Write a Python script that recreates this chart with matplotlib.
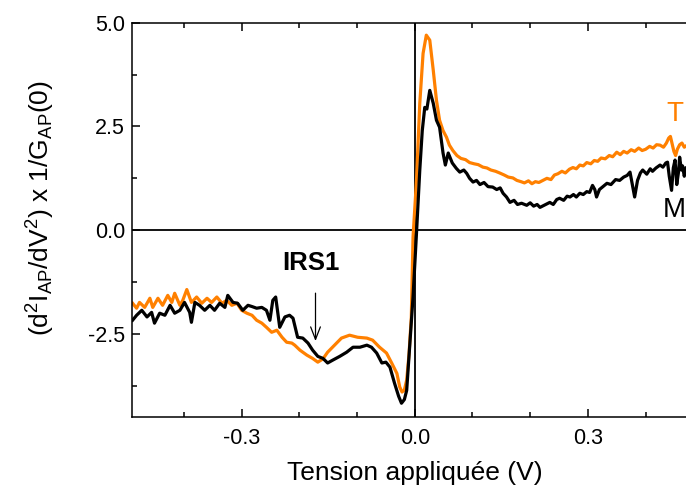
import matplotlib
matplotlib.use('Agg')
import matplotlib.pyplot as plt
from matplotlib.ticker import MultipleLocator, FormatStrFormatter

plt.rcParams['font.family'] = ['Liberation Sans', 'DejaVu Sans']
plt.rcParams['mathtext.fontset'] = 'custom'
plt.rcParams['mathtext.rm'] = 'Liberation Sans'
plt.rcParams['mathtext.it'] = 'Liberation Sans'
plt.rcParams['axes.unicode_minus'] = False

# courbe M (noire)
v_M = [-0.489, -0.482, -0.473, -0.464, -0.456, -0.451, -0.442, -0.433, -0.424, -0.416,
       -0.407, -0.399, -0.390, -0.387, -0.381, -0.373, -0.364, -0.355, -0.347, -0.338,
       -0.329, -0.324, -0.315, -0.307, -0.298, -0.289, -0.282, -0.274, -0.265, -0.257,
       -0.251, -0.246, -0.241, -0.234, -0.225, -0.217, -0.211, -0.203, -0.194, -0.185,
       -0.177, -0.168, -0.159, -0.151, -0.142, -0.130, -0.118, -0.107, -0.095, -0.083,
       -0.075, -0.066, -0.057, -0.050, -0.043, -0.035, -0.028, -0.023, -0.018, -0.014,
       -0.009, -0.003, 0.003, 0.0087, 0.013, 0.0173, 0.021, 0.026, 0.032, 0.0376,
       0.043, 0.049, 0.053, 0.058, 0.065, 0.072, 0.078, 0.085, 0.090, 0.095,
       0.101, 0.107, 0.113, 0.120, 0.127, 0.135, 0.142, 0.148, 0.153, 0.159,
       0.165, 0.172, 0.178, 0.185, 0.194, 0.200, 0.206, 0.212, 0.217, 0.224,
       0.230, 0.234, 0.240, 0.246, 0.251, 0.258, 0.264, 0.269, 0.275, 0.280,
       0.286, 0.292, 0.298, 0.303, 0.308, 0.312, 0.315, 0.320, 0.326, 0.333,
       0.340, 0.348, 0.355, 0.362, 0.368, 0.373, 0.377, 0.381, 0.386, 0.391,
       0.395, 0.402, 0.408, 0.412, 0.418, 0.425, 0.430, 0.435, 0.438, 0.441,
       0.445, 0.448, 0.451, 0.454, 0.457, 0.459, 0.462, 0.464, 0.467, 0.470]
d2I_M = [-2.17, -2.05, -1.93, -2.09, -1.98, -2.24, -2.00, -2.05, -1.81, -2.00,
         -1.93, -1.74, -1.98, -2.22, -1.74, -1.81, -1.93, -1.81, -1.93, -1.76,
         -1.86, -1.57, -1.74, -1.76, -1.93, -1.81, -1.84, -1.88, -1.86, -1.93,
         -2.17, -1.69, -1.61, -2.34, -2.09, -2.05, -2.12, -2.58, -2.60, -2.72,
         -2.89, -3.04, -3.09, -3.20, -3.13, -3.04, -2.94, -2.82, -2.82, -2.77,
         -2.82, -2.96, -3.20, -3.18, -3.30, -3.69, -4.00, -4.17, -4.08, -3.86,
         -2.82, -1.61, -0.07, 1.45, 2.40, 2.96, 2.92, 3.37, 3.06, 2.65,
         2.48, 1.86, 1.57, 1.86, 1.62, 1.49, 1.40, 1.45, 1.37, 1.25,
         1.16, 1.20, 1.10, 1.15, 1.05, 1.04, 0.98, 1.02, 0.89, 0.80,
         0.67, 0.72, 0.62, 0.65, 0.60, 0.66, 0.58, 0.62, 0.55, 0.60,
         0.64, 0.67, 0.62, 0.74, 0.77, 0.72, 0.82, 0.80, 0.86, 0.80,
         0.89, 0.86, 0.93, 0.91, 1.08, 0.98, 0.80, 0.98, 1.05, 1.13,
         1.10, 1.22, 1.20, 1.28, 1.32, 1.40, 1.10, 0.80, 1.20, 1.38,
         1.45, 1.35, 1.48, 1.42, 1.50, 1.57, 1.52, 1.62, 1.64, 1.30,
         0.96, 1.50, 1.69, 1.10, 1.40, 1.76, 1.45, 1.55, 1.30, 1.50]

# courbe T (orange)
v_T = [-0.489, -0.482, -0.477, -0.468, -0.459, -0.454, -0.445, -0.437, -0.428, -0.421,
       -0.416, -0.407, -0.402, -0.395, -0.387, -0.378, -0.369, -0.360, -0.352, -0.343,
       -0.334, -0.326, -0.317, -0.308, -0.300, -0.291, -0.282, -0.274, -0.265, -0.257,
       -0.248, -0.239, -0.230, -0.222, -0.213, -0.208, -0.199, -0.187, -0.177, -0.168,
       -0.159, -0.151, -0.139, -0.127, -0.113, -0.099, -0.083, -0.073, -0.061, -0.049,
       -0.040, -0.031, -0.026, -0.022, -0.018, -0.014, -0.010, -0.006, -0.003, 0.003,
       0.0087, 0.0144, 0.020, 0.026, 0.032, 0.0376, 0.043, 0.049, 0.055, 0.060,
       0.066, 0.073, 0.080, 0.088, 0.095, 0.103, 0.110, 0.118, 0.125, 0.132,
       0.140, 0.147, 0.155, 0.162, 0.170, 0.177, 0.184, 0.190, 0.197, 0.203,
       0.209, 0.215, 0.222, 0.229, 0.236, 0.242, 0.248, 0.255, 0.261, 0.268,
       0.274, 0.280, 0.286, 0.292, 0.298, 0.305, 0.311, 0.317, 0.323, 0.330,
       0.337, 0.343, 0.350, 0.356, 0.362, 0.368, 0.375, 0.381, 0.388, 0.394,
       0.400, 0.407, 0.413, 0.419, 0.425, 0.431, 0.436, 0.440, 0.443, 0.446,
       0.449, 0.452, 0.455, 0.459, 0.463, 0.467, 0.470]
d2I_T = [-1.76, -1.88, -1.74, -1.86, -1.64, -1.86, -1.64, -1.81, -1.57, -1.74,
         -1.52, -1.81, -1.69, -1.43, -1.74, -1.61, -1.76, -1.64, -1.74, -1.61,
         -1.76, -1.69, -1.81, -1.76, -1.93, -2.00, -2.05, -2.17, -2.24, -2.34,
         -2.46, -2.41, -2.58, -2.70, -2.72, -2.77, -2.89, -3.01, -3.09, -3.18,
         -3.10, -2.94, -2.77, -2.60, -2.53, -2.58, -2.60, -2.65, -2.82, -2.96,
         -3.20, -3.45, -3.78, -3.90, -3.85, -3.61, -3.00, -2.10, -0.17, 1.20,
         3.06, 4.26, 4.70, 4.58, 3.86, 3.13, 2.65, 2.40, 2.24, 2.05,
         1.92, 1.80, 1.73, 1.70, 1.63, 1.60, 1.58, 1.52, 1.50, 1.45,
         1.42, 1.38, 1.33, 1.28, 1.26, 1.20, 1.17, 1.14, 1.19, 1.12,
         1.17, 1.15, 1.20, 1.25, 1.22, 1.33, 1.36, 1.42, 1.38, 1.47,
         1.51, 1.48, 1.57, 1.55, 1.63, 1.60, 1.68, 1.66, 1.74, 1.72,
         1.80, 1.77, 1.88, 1.82, 1.90, 1.86, 1.94, 1.90, 1.98, 1.92,
         1.95, 2.02, 1.98, 2.06, 2.05, 2.00, 2.10, 2.22, 2.26, 2.08,
         1.90, 1.80, 1.95, 2.06, 2.10, 2.00, 2.03]

fig = plt.figure(figsize=(6.86, 4.94), dpi=100)
ax = fig.add_axes([0.1924, 0.156, 0.8076, 0.798])

ax.axhline(0, color='black', lw=1.3, zorder=1)
ax.axvline(0, color='black', lw=1.3, zorder=1)
ax.plot(v_M, d2I_M, color='black', lw=2.3, zorder=3)
ax.plot(v_T, d2I_T, color='#ff8000', lw=2.3, zorder=2)

ax.set_xlim(-0.49, 0.47)
ax.set_ylim(-4.5, 5.0)
ax.xaxis.set_major_locator(MultipleLocator(0.3))
ax.xaxis.set_minor_locator(MultipleLocator(0.1))
ax.yaxis.set_major_locator(MultipleLocator(2.5))
ax.yaxis.set_minor_locator(MultipleLocator(1.25))
ax.xaxis.set_major_formatter(FormatStrFormatter('%.1f'))
ax.yaxis.set_major_formatter(FormatStrFormatter('%.1f'))
ax.tick_params(which='both', direction='in', top=True, right=False, width=1.1, labelsize=15.5)
ax.tick_params(which='major', length=6)
ax.tick_params(which='minor', length=3.5)
ax.tick_params(axis='x', pad=8)
ax.tick_params(axis='y', pad=5)
for s in ['left', 'bottom', 'top']:
    ax.spines[s].set_linewidth(1.1)
ax.spines['right'].set_visible(False)

ax.set_xlabel('Tension appliquée (V)', fontsize=19)
ax.set_ylabel(r'(d$^2$I$_{AP}$/dV$^2$) x 1/G$_{AP}$(0)', fontsize=19)
ax.xaxis.set_label_coords(0.51, -0.112)
ax.yaxis.set_label_coords(-0.135, 0.53)

ax.text(0.451, 2.8, 'T', color='#ff8000', fontsize=20, ha='center', va='center')
ax.text(0.449, 0.48, 'M', color='black', fontsize=20, ha='center', va='center')

ax.annotate('', xy=(-0.172, -2.74), xytext=(-0.172, -1.45),
            arrowprops=dict(arrowstyle='->,head_length=0.9,head_width=0.35', color='black', lw=0.9))
ax.text(-0.18, -0.80, 'IRS1', fontsize=18.5, fontweight='bold', ha='center', va='center')

plt.savefig('out.png', dpi=100)
